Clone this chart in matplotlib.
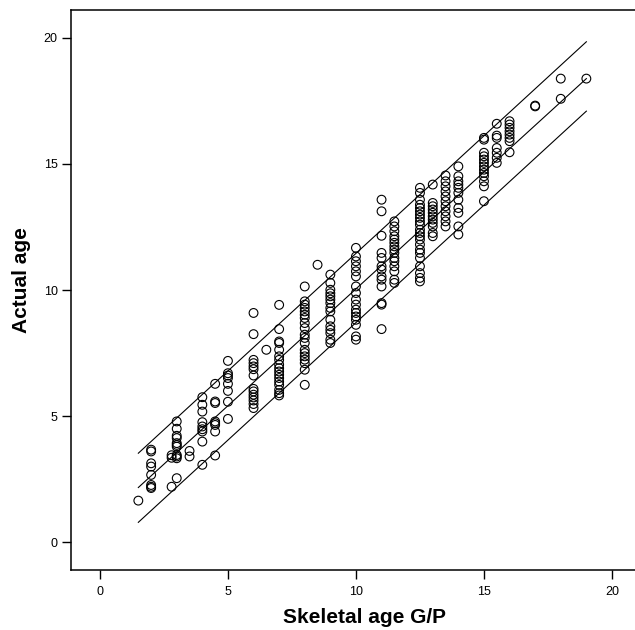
import matplotlib
matplotlib.use("Agg")
import matplotlib.pyplot as plt
import numpy as np

plt.rcParams['font.family'] = ['Liberation Sans', 'DejaVu Sans']

# Skeletal age groups (x) and observed actual ages (y)
groups = {
    1.5: [1.65],
    2.0: [3.67, 3.6, 3.13, 3.0, 2.67, 2.27, 2.2, 2.15],
    2.8: [3.45, 3.35, 2.2],
    3.0: [4.79, 4.5, 4.22, 4.13, 3.93, 3.86, 3.79, 3.46, 3.4, 3.33, 2.54],
    3.5: [3.62, 3.4],
    4.0: [5.75, 5.45, 5.18, 4.76, 4.59, 4.48, 4.39, 3.99, 3.07],
    4.5: [6.28, 5.58, 5.52, 4.79, 4.72, 4.65, 4.39, 3.44],
    5.0: [7.19, 6.7, 6.61, 6.51, 6.28, 6.0, 5.57, 4.89],
    6.0: [9.09, 8.25, 7.23, 7.1, 6.97, 6.86, 6.61, 6.08, 5.98, 5.85, 5.74, 5.62, 5.48, 5.32],
    6.5: [7.63],
    7.0: [9.41, 8.45, 7.96, 7.9, 7.63, 7.37, 7.23, 7.04, 6.9, 6.77, 6.64, 6.51, 6.37, 6.24, 6.04, 5.91, 5.82],
    8.0: [10.14, 9.55, 9.42, 9.29, 9.15, 9.02, 8.89, 8.69, 8.49, 8.23, 8.1, 7.9, 7.63, 7.5,
          7.37, 7.24, 7.1, 6.84, 6.24],
    8.5: [11.0],
    9.0: [10.61, 10.28, 10.01, 9.87, 9.75, 9.62, 9.48, 9.29, 9.15, 8.82, 8.56, 8.42, 8.29, 8.03, 7.9],
    10.0: [11.67, 11.33, 11.14, 10.94, 10.74, 10.54, 10.14, 9.88, 9.62, 9.42, 9.22, 9.09, 8.95,
           8.82, 8.62, 8.16, 8.03],
    11.0: [13.58, 13.12, 12.15, 11.47, 11.27, 10.94, 10.81, 10.54, 10.41, 10.14, 9.48, 9.42, 8.45],
    11.5: [12.72, 12.52, 12.33, 12.13, 12.0, 11.87, 11.73, 11.6, 11.47, 11.27, 11.14, 10.94,
           10.74, 10.41, 10.28],
    12.5: [14.05, 13.85, 13.58, 13.38, 13.25, 13.12, 12.99, 12.86, 12.72, 12.59, 12.39, 12.26,
           12.13, 12.0, 11.8, 11.6, 11.47, 11.27, 10.94, 10.67, 10.48, 10.34],
    13.0: [14.18, 13.45, 13.32, 13.19, 13.06, 12.92, 12.79, 12.66, 12.52, 12.26, 12.13],
    13.5: [14.54, 14.31, 14.11, 13.91, 13.71, 13.52, 13.32, 13.12, 12.92, 12.72, 12.52],
    14.0: [14.9, 14.51, 14.31, 14.18, 14.05, 13.85, 13.58, 13.25, 13.06, 12.52, 12.2],
    15.0: [16.03, 15.96, 15.44, 15.3, 15.17, 15.04, 14.9, 14.77, 14.64, 14.51, 14.31, 14.11, 13.52],
    15.5: [16.59, 16.12, 16.03, 15.63, 15.44, 15.24, 15.04],
    16.0: [16.69, 16.56, 16.43, 16.29, 16.16, 16.03, 15.9, 15.46],
    17.0: [17.31, 17.28],
    18.0: [18.38, 17.58],
    19.0: [18.38],
}

# Regression line and prediction bounds (endpoints)
line_x = [1.5, 19.0]
fit_y = [2.17, 18.38]
upper_y = [3.53, 19.84]
lower_y = [0.79, 17.09]

xticks = [0, 5, 10, 15, 20]
yticks = [0, 5, 10, 15, 20]

xs, ys = [], []
for gx, vals in groups.items():
    xs.extend([gx] * len(vals))
    ys.extend(vals)

fig = plt.figure(figsize=(6.35, 6.30), dpi=100)
ax = fig.add_axes([71 / 635, 1 - 570 / 630, 1 - 71 / 635, (570 - 10) / 630])

ax.scatter(xs, ys, s=40, facecolors='none', edgecolors='black', linewidths=0.8, zorder=3)
ax.plot(line_x, fit_y, color='black', lw=0.8)
ax.plot(line_x, upper_y, color='black', lw=0.8)
ax.plot(line_x, lower_y, color='black', lw=0.8)

ax.set_xlim(-1.13, 20.9)
ax.set_ylim(-1.1, 21.1)
ax.set_xticks(xticks)
ax.set_yticks(yticks)
ax.tick_params(axis='both', direction='out', length=6.5, width=1.0, labelsize=9, colors='black')
ax.tick_params(axis='x', pad=5)
ax.tick_params(axis='y', pad=3)
for side in ['left', 'bottom', 'top']:
    ax.spines[side].set_linewidth(1.1)
ax.spines['right'].set_visible(False)

ax.set_xlabel('Skeletal age G/P', fontsize=15, fontweight='bold')
ax.set_ylabel('Actual age', fontsize=15, fontweight='bold')
ax.xaxis.set_label_coords(0.52, -0.068)
ax.yaxis.set_label_coords(-0.071, 0.518)

fig.savefig('out.png', dpi=100)
